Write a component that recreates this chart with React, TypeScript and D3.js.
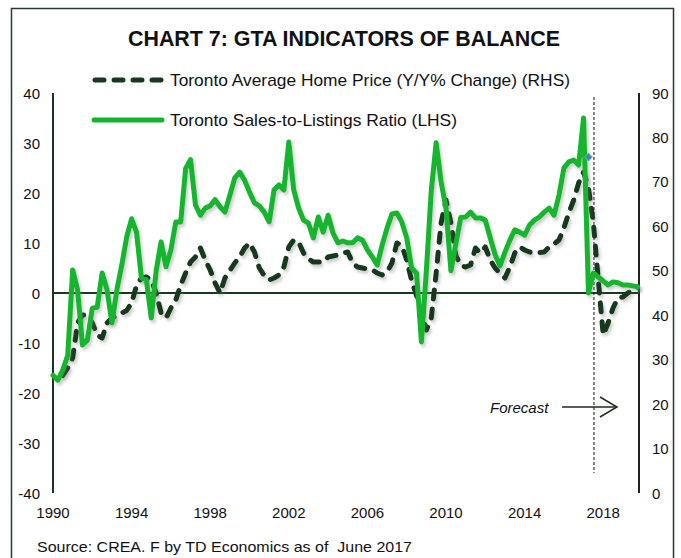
import React from "react";
import * as d3 from "d3";

const title = "CHART 7: GTA INDICATORS OF BALANCE";
const legendPrice = "Toronto Average Home Price (Y/Y% Change) (RHS)";
const legendSlr = "Toronto Sales-to-Listings Ratio (LHS)";
const sourceText = "Source: CREA. F by TD Economics as of  June 2017";
const forecastText = "Forecast";

const startYear = 1990;
// Quarterly, 1990Q1 .. 2019Q4 (null = not shown)
const priceYoY: (number | null)[] = [
  null, null, -16.5, -15,
  -13, -6, -4.4, -4.4,
  -6, -8.4, -9, -6,
  -5, -4.5, -4, -3.5,
  -2, 1.5, 3, 3.2,
  2.6, 0, -4, -5,
  -3, -1.4, 1.6, 4,
  6.2, 7.2, 9, 6.6,
  4.6, 2, 0, 3,
  4.5, 6, 7.2, 9,
  10, 8.2, 5, 3.5,
  2.6, 3, 3.6, 5.2,
  9.2, 10.6, 10.2, 8,
  6.8, 6.2, 6.2, 6.2,
  7.2, 7.4, 7.6, 8,
  8.2, 6, 5.2, 5,
  4.8, 4.6, 4, 3.6,
  4.2, 6, 10, 9.5,
  6.6, 2.5, -0.5, -4,
  -7.4, -5, 4, 14,
  18.6, 14, 7.5, 5.5,
  5.2, 5.6, 9, 8,
  9.2, 6.6, 5, 4,
  3, 5.2, 8, 9.2,
  8.6, 8.2, 8, 8.1,
  8.2, 9.2, 9.8, 10.6,
  13, 16, 18.6, 22,
  24.2, 21, 14, 2.6,
  -8.4, -6, -3, -1,
  -0.8, 0, 0.5, 1.2,
];
const salesToListings = [
  26.5, 25.4, 27.7, 31,
  50.2, 45.7, 33.3, 34.4,
  41.6, 41.8, 49.5, 45.7,
  38.3, 45.7, 51.3, 57.6,
  61.7, 58.7, 48.4, 48,
  39.4, 50, 56.5, 50.9,
  54.7, 61, 61, 73,
  75, 64.8, 62.5, 64.1,
  64.6, 66, 64.4, 63.2,
  67, 70.9, 72.2, 70.4,
  67.7, 65.3, 64.6, 63.2,
  61, 68.2, 69.3, 68.2,
  79, 68.2, 64.1, 61.4,
  60.7, 57.4, 62.1, 58.7,
  62.5, 58.5, 56.3, 56.7,
  56.3, 56.3, 57.4, 56.9,
  54.7, 53.1, 51.3, 55.8,
  59.6, 62.8, 63, 61,
  57.4, 50.6, 49.5, 34,
  50, 68, 78.8, 70,
  64, 50, 56, 62,
  62.1, 63.2, 61.9, 61.9,
  61.4, 57.4, 53.6, 51.1,
  54.2, 56.9, 59.2, 58.7,
  58, 60.3, 61.4, 62.1,
  63.2, 64.1, 62.5, 67,
  73.1, 74.5, 74.9, 73.8,
  84.4, 45, 49.5, 48.6,
  47.7, 46.8, 47.5, 47.3,
  46.8, 46.8, 46.6, 46.4,
];
const markerPoint = { t: 2017.25, v: 75.6 };
const forecastStart = 2017.53;

const leftTicks = [-40, -30, -20, -10, 0, 10, 20, 30, 40];
const rightTicks = [0, 10, 20, 30, 40, 50, 60, 70, 80, 90];
const xTickYears = [1990, 1994, 1998, 2002, 2006, 2010, 2014, 2018];

const W = 681, H = 558;
const font = "'Liberation Sans', Arial, sans-serif";
const GREEN = "#14b52e";
const DARK = "#17391f";

export default function App() {
  const x = d3.scaleLinear().domain([1990, 2020]).range([53, 642.5]);
  const yL = d3.scaleLinear().domain([-40, 40]).range([493, 93]);
  const yR = d3.scaleLinear().domain([0, 90]).range([493, 93]);

  const tOf = (i: number) => startYear + i / 4;
  const priceLine =
    d3
      .line<number | null>()
      .defined((d) => d !== null)
      .x((_, i) => x(tOf(i)))
      .y((d) => yL(d as number))(priceYoY) || "";
  const slrLine =
    d3
      .line<number>()
      .x((_, i) => x(tOf(i)))
      .y((d) => yR(d))(salesToListings) || "";

  const mx = x(markerPoint.t), my = yR(markerPoint.v);
  const fx = x(forecastStart);

  return (
    <svg width={W} height={H} style={{ position: "absolute", left: 0, top: 0, background: "#fff" }} fontFamily={font}>
      <defs>
        <filter id="sh" x="-10%" y="-10%" width="120%" height="130%">
          <feDropShadow dx="2" dy="3" stdDeviation="1.5" floodColor="#777" floodOpacity="0.35" />
        </filter>
      </defs>
      <rect x={0} y={0} width={W} height={H} fill="#fff" />
      <rect x={11.5} y={8.5} width={662} height={570} fill="none" stroke="#2a3a2a" strokeWidth={1.5} />

      <text x={344} y={46} textAnchor="middle" fontSize={22} fontWeight="bold" fill="#111" textLength={432} lengthAdjust="spacingAndGlyphs">{title}</text>

      {/* legend */}
      <line x1={95} x2={162} y1={80} y2={80} stroke={DARK} strokeWidth={5} strokeDasharray="9,10" strokeLinecap="round" />
      <text x={170} y={86} fontSize={17} fill="#111" textLength={400} lengthAdjust="spacingAndGlyphs">{legendPrice}</text>
      <line x1={94} x2={162} y1={120} y2={120} stroke={GREEN} strokeWidth={5} strokeLinecap="round" />
      <text x={170} y={126} fontSize={17} fill="#111" textLength={287} lengthAdjust="spacingAndGlyphs">{legendSlr}</text>

      {/* axes */}
      <line x1={x(1990)} x2={x(1990)} y1={yL(40)} y2={yL(-40)} stroke={DARK} strokeWidth={2} />
      <line x1={639} x2={639} y1={yR(90)} y2={yR(0)} stroke="#222" strokeWidth={2} />
      <line x1={x(1990)} x2={639} y1={yL(0)} y2={yL(0)} stroke={DARK} strokeWidth={2} />

      {leftTicks.map((t) => (
        <text key={"l" + t} x={40} y={yL(t) + 5.5} textAnchor="end" fontSize={15} fill="#111">{t}</text>
      ))}
      {rightTicks.map((t) => (
        <text key={"r" + t} x={652} y={yR(t) + 5.5} textAnchor="start" fontSize={15} fill="#111">{t}</text>
      ))}
      {xTickYears.map((t) => (
        <text key={"x" + t} x={x(t)} y={518} textAnchor="middle" fontSize={15} fill="#111">{t}</text>
      ))}

      {/* forecast line */}
      <line x1={fx} x2={fx} y1={97} y2={473} stroke="#111" strokeWidth={1} strokeDasharray="3,2" />

      {/* series */}
      <path d={priceLine} fill="none" stroke={DARK} strokeWidth={5} strokeDasharray="9,10" strokeLinecap="round" strokeLinejoin="round" filter="url(#sh)" />
      <path d={slrLine} fill="none" stroke={GREEN} strokeWidth={5} strokeLinejoin="round" strokeLinecap="round" filter="url(#sh)" />
      <path d={`M${mx - 4},${my} L${mx},${my - 4} L${mx + 4},${my} L${mx},${my + 4} Z`} fill="#2a8fd0" stroke="#a6b04a" strokeWidth={1} />

      {/* forecast annotation */}
      <text x={490} y={413} fontSize={15} fontStyle="italic" fill="#111">{forecastText}</text>
      <line x1={562} x2={617} y1={407} y2={407} stroke="#1e2e1e" strokeWidth={1.5} />
      <polyline points="600,397 617,407 600,417" fill="none" stroke="#1e2e1e" strokeWidth={1.5} />

      <text x={37} y={552} fontSize={15} fill="#111" textLength={375} lengthAdjust="spacingAndGlyphs" style={{ whiteSpace: "pre" }}>{sourceText}</text>
    </svg>
  );
}
